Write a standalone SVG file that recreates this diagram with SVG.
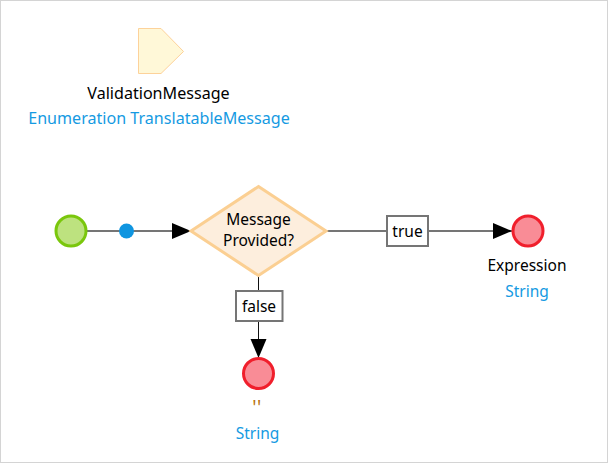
<svg xmlns="http://www.w3.org/2000/svg" width="608" height="463" viewBox="0 0 608 463">
<defs>
<marker id="arrow" markerUnits="userSpaceOnUse" markerWidth="20" markerHeight="18" refX="19" refY="8" orient="auto"><path d="M0 0L19 8L0 16Z" fill="#000"/></marker>
</defs>
<style>
text{font-family:"Noto Sans","Open Sans","Liberation Sans",sans-serif;font-size:15.5px;text-anchor:middle;fill:#000}
.big{font-size:16.100px}
.type{fill:#159ae2}
.line{fill:none;stroke:#757575;stroke-width:2}
.thin{fill:none;stroke:#111;stroke-width:1}
.label{fill:#fff;stroke:#757575;stroke-width:2}
.end{fill:#f98c96;stroke:#f01f2c;stroke-width:3}
</style>
<rect x="0.5" y="0.5" width="607" height="462" fill="#fff" stroke="#d4d4d4"/>
<g id="connectors">
<path class="line" d="M87 231H191" marker-end="url(#arrow)"/>
<path class="line" d="M326 231H387"/>
<path class="line" d="M428 231H512" marker-end="url(#arrow)"/>
<path class="thin" d="M258.500 276V291"/>
<path class="thin" d="M258.500 321V358" marker-end="url(#arrow)"/>
</g>
<g id="parameter">
<path d="M138.500 28.500H161L183.500 51.500L161 73.500H138.500Z" fill="#fff8d8" stroke="#fdd29a" stroke-width="1"/>
<text class="big" x="158.500" y="99">ValidationMessage</text>
<text class="big type" x="159" y="124">Enumeration TranslatableMessage</text>
</g>
<g id="start"><circle cx="71" cy="231" r="15" fill="#bde27f" stroke="#7ac70c" stroke-width="3"/></g>
<g id="dot"><circle cx="126.500" cy="231" r="7.500" fill="#0f95e0"/></g>
<g id="decision">
<path d="M258.500 186.500L326 231L258.500 275.500L191 231Z" fill="#fdeedd" stroke="#fbcf92" stroke-width="3"/>
<text x="258.500" y="225">Message</text>
<text x="258.500" y="246">Provided?</text>
</g>
<g id="label-true">
<rect class="label" x="387" y="216" width="41" height="30"/>
<text x="407.500" y="237">true</text>
</g>
<g id="label-false">
<rect class="label" x="236" y="291" width="46.500" height="30"/>
<text x="259" y="312">false</text>
</g>
<g id="end-true">
<circle class="end" cx="528" cy="231" r="15"/>
<text x="527" y="271">Expression</text>
<text class="type" x="527" y="297">String</text>
</g>
<g id="end-false">
<circle class="end" cx="258.500" cy="373.500" r="15"/>
<text x="257" y="414" style="fill:#b8740f;font-size:19px;letter-spacing:0.5px">''</text>
<text class="type" x="257.500" y="439">String</text>
</g>
</svg>
